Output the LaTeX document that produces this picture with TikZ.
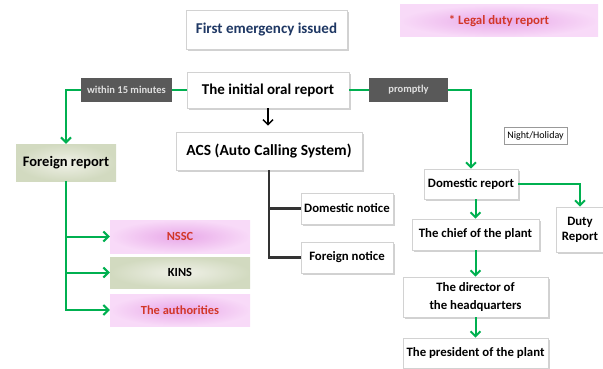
\documentclass[tikz,border=0pt]{standalone}
\usepackage{fontspec}
\setmainfont{Carlito}
\usetikzlibrary{arrows.meta,shadows,calc}
\definecolor{grn}{RGB}{0,176,80}
\definecolor{lblgray}{RGB}{89,89,89}
\definecolor{navy}{RGB}{31,56,100}
\definecolor{redtxt}{RGB}{210,55,40}
\definecolor{pinkout}{RGB}{248,218,248}
\definecolor{pinkin}{RGB}{232,168,232}
\definecolor{olout}{RGB}{210,218,192}
\definecolor{olin}{RGB}{240,241,232}
\definecolor{darkline}{RGB}{51,51,51}
\tikzset{
  x=1pt,y=-1pt,
  wbox/.style={draw=gray!35,fill=white,line width=0.6pt,inner sep=0pt,align=center,
    font=\bfseries,drop shadow={shadow xshift=2pt,shadow yshift=-2pt,fill=gray!45,opacity=0.8}},
  lbl/.style={fill=lblgray,text=white!88!black,inner sep=0pt,font=\bfseries\fontsize{10.5}{12}\selectfont},
  pinkbox/.style={inner sep=0pt,inner color=pinkin,outer color=pinkout,text=redtxt,font=\bfseries\fontsize{12.4}{14}\selectfont},
  olbox/.style={inner sep=0pt,inner color=olin,outer color=olout,font=\bfseries},
  gline/.style={draw=grn,line width=2pt},
  garrow/.style={gline,-{Straight Barb[length=5pt,width=10pt,line width=2pt]}},
  bline/.style={draw=darkline,line width=2.5pt},
  big/.style={font=\bfseries\fontsize{15}{17}\selectfont},
  mid/.style={font=\bfseries\fontsize{12.8}{15}\selectfont},
}
\begin{document}
\begin{tikzpicture}
\useasboundingbox (0,0) rectangle (603,369);
% top
\node[wbox,big,minimum width=161,minimum height=39,text=navy] (first) at (266.5,30) {First emergency issued};
\node[pinkbox,minimum width=198,minimum height=32,font=\bfseries\fontsize{12.8}{14}\selectfont] (legal) at (499,21) {* Legal duty report};
\node[wbox,big,minimum width=162,minimum height=36] (oral) at (268,90) {The initial oral report};
\node[lbl,minimum width=91,minimum height=24] (within) at (126.5,90) {within 15 minutes};
\node[lbl,minimum width=79,minimum height=24] (prompt) at (408.5,90) {promptly};
% ACS
\node[wbox,minimum width=186,minimum height=38,font=\bfseries\fontsize{15.5}{17}\selectfont] (acs) at (269,151) {ACS (Auto Calling System)};
\node[wbox,mid,minimum width=92,minimum height=31] (dnot) at (347,208.5) {Domestic notice};
\node[wbox,mid,minimum width=92,minimum height=31] (fnot) at (347,257.5) {Foreign notice};
% foreign
\node[olbox,minimum width=100,minimum height=37,font=\bfseries\fontsize{14.5}{17}\selectfont] (foreign) at (66,162.5) {Foreign report};
\node[pinkbox,minimum width=140,minimum height=33] (nssc) at (180,236.5) {NSSC};
\node[olbox,minimum width=140,minimum height=31,font=\bfseries\fontsize{12.4}{14}\selectfont] (kins) at (180,272.5) {KINS};
\node[pinkbox,minimum width=140,minimum height=32] (auth) at (180,310) {The authorities};
% domestic
\node[draw=gray!80,line width=0.6pt,fill=white,inner sep=0pt,minimum width=63,minimum height=17,font=\fontsize{10}{12}\selectfont] (night) at (535.5,135.5) {Night/Holiday};
\node[wbox,mid,minimum width=94,minimum height=30] (domrep) at (471,184) {Domestic report};
\node[wbox,minimum width=48,minimum height=45,font=\bfseries\fontsize{12.8}{15}\selectfont] (duty) at (580,229.5) {Duty\\Report};
\node[wbox,mid,minimum width=127,minimum height=31] (chief) at (475.5,234.5) {The chief of the plant};
\node[wbox,minimum width=145,minimum height=40,font=\bfseries\fontsize{12.8}{18}\selectfont] (director) at (475.5,297) {The director of\\the headquarters};
\node[wbox,mid,minimum width=145,minimum height=30] (pres) at (475.5,353) {The president of the plant};
% connectors
\draw[gline] (oral.west) -- (within.east);
\draw[garrow] (within.west) -| (foreign.north);
\draw[gline] (oral.east) -- (prompt.west);
\draw[garrow] (prompt.east) -| (domrep.north);
\draw[draw=black,line width=1.5pt,shorten >=6pt,-{Straight Barb[length=5pt,width=10pt,line width=1.5pt]}] (oral.south) -- (oral.south |- acs.north);
\draw[garrow] (foreign.south) |- (nssc.west);
\draw[garrow] (foreign.south) |- (kins.west);
\draw[garrow] (foreign.south) |- (auth.west);
\draw[bline] (acs.south) |- (dnot.west);
\draw[bline] (acs.south) |- (fnot.west);
\draw[garrow] (domrep.east) -| (duty.north);
\draw[garrow] (domrep.south -| chief.north) -- (chief.north);
\draw[garrow] (chief.south) -- (director.north);
\draw[garrow] (director.south) -- (pres.north);
\end{tikzpicture}
\end{document}
